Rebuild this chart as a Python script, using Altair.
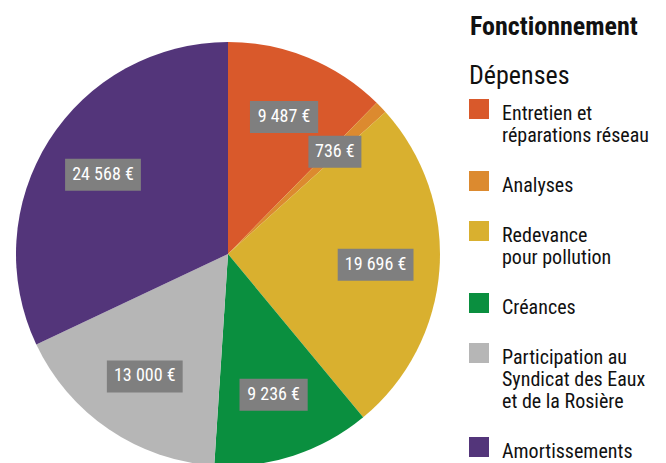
import altair as alt
import pandas as pd

categories = [
    "Entretien et\nréparations réseau",
    "Analyses",
    "Redevance\npour pollution",
    "Créances",
    "Participation au\nSyndicat des Eaux\net de la Rosière",
    "Amortissements",
]
values = [9487, 736, 19696, 9236, 13000, 24568]
value_labels = ["9 487 €", "736 €", "19 696 €", "9 236 €", "13 000 €", "24 568 €"]
colors = ["#d9592b", "#dc8a2f", "#d9b02f", "#0a8f3f", "#b6b6b6", "#53357a"]

df = pd.DataFrame({
    "cat": categories,
    "value": values,
    "label": value_labels,
    "order": list(range(len(values))),
})

FONT = "Roboto Condensed, DejaVu Sans Condensed, sans-serif"
CX, CY, R, LR = 220, 246, 212, 148

base = alt.Chart(df)

color = alt.Color(
    "cat:N",
    scale=alt.Scale(domain=categories, range=colors),
    sort=categories,
    legend=alt.Legend(
        title="Dépenses",
        orient="none",
        legendX=461,
        legendY=55,
        titleFont=FONT,
        titleFontSize=26,
        titleFontWeight="normal",
        titleColor="#111111",
        titleBaseline="top",
        titlePadding=21,
        labelFont=FONT,
        labelFontSize=20,
        labelColor="#111111",
        labelExpr="split(datum.label, '\\n')",
        labelBaseline="alphabetic",
        labelOffset=13,
        labelLimit=300,
        symbolType="M-1,-2.1L1,-2.1L1,-0.1L-1,-0.1Z",
        symbolSize=400,
        symbolStrokeWidth=0,
        symbolOpacity=1,
        rowPadding=25,
    ),
)

pie = base.mark_arc(radius=R, strokeWidth=0).encode(
    theta=alt.Theta("value:Q", stack=True),
    color=color,
    order=alt.Order("order:Q"),
    x=alt.value(CX),
    y=alt.value(CY),
)

lab = (
    base.transform_window(cum="sum(value)", sort=[alt.SortField("order")], frame=[None, 0])
    .transform_joinaggregate(total="sum(value)")
    .transform_calculate(
        mid="(datum.cum - datum.value/2)/datum.total*2*PI",
        px=f"{CX} + {LR}*sin(datum.mid)",
        py=f"{CY} - {LR}*cos(datum.mid)",
        w="7.6*length(datum.label) + 15",
        bx1="datum.px - datum.w/2",
        bx2="datum.px + datum.w/2",
        by1="datum.py - 16",
        by2="datum.py + 16",
    )
)

boxes = lab.mark_rect(color="#7f7f7f").encode(
    x=alt.X("bx1:Q", scale=None, axis=None),
    x2="bx2:Q",
    y=alt.Y("by1:Q", scale=None, axis=None),
    y2="by2:Q",
)

texts = lab.mark_text(color="white", fontSize=18, font=FONT).encode(
    x=alt.X("px:Q", scale=None, axis=None),
    y=alt.Y("py:Q", scale=None, axis=None),
    text="label:N",
)

title = alt.Chart(pd.DataFrame({"t": ["Fonctionnement"]})).mark_text(
    align="left", baseline="alphabetic", fontSize=26, fontWeight="bold",
    font=FONT, color="#111111",
).encode(text="t:N", x=alt.value(462), y=alt.value(27))

chart = (
    alt.layer(pie, boxes, texts, title)
    .properties(
        width=650,
        height=455,
        padding=0,
        autosize=alt.AutoSizeParams(type="none"),
    )
    .configure_view(stroke=None)
)

chart.save("out.html", embed_options={"renderer": "svg", "actions": False})
